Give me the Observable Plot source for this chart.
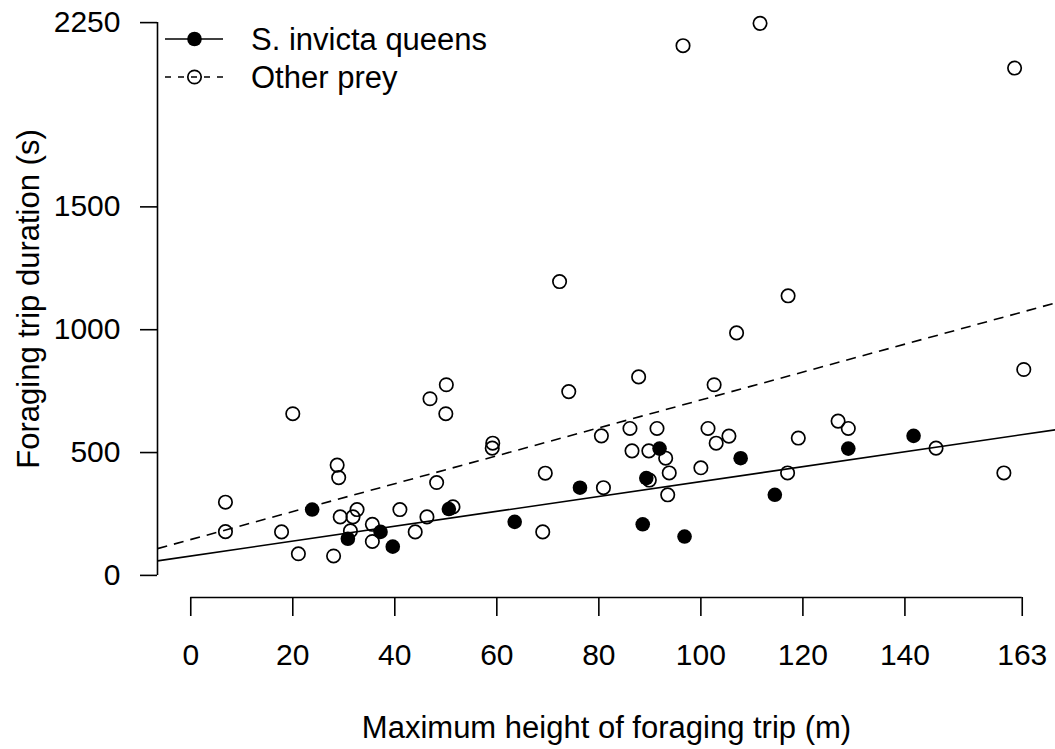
<!DOCTYPE html>
<html>
<head>
<meta charset="utf-8">
<script src="https://cdn.jsdelivr.net/npm/d3@7"></script>
<script src="https://cdn.jsdelivr.net/npm/@observablehq/plot@0.6"></script>
<style>
  html, body { margin: 0; padding: 0; background: #fff; }
  #chart svg { display: block; }
</style>
</head>
<body>
<div id="chart"></div>
<script>
// ---- data ----
const xTicks = [0, 20, 40, 60, 80, 100, 120, 140, 163];
const yTicks = [0, 500, 1000, 1500, 2250];

const queensX = [23.8, 30.8, 37.2, 39.6, 50.6, 63.5, 76.3, 91.9, 89.3, 88.6, 96.8, 107.8, 114.5, 128.9, 141.7];
const queensY = [268, 149, 177, 117, 270, 218, 357, 516, 396, 208, 158, 477, 328, 516, 568];

const otherX = [72.3, 20.0, 50.1, 46.9, 50.0, 74.1, 59.2, 59.1, 80.5, 28.7,
                29.0, 6.8, 6.8, 17.8, 21.1, 28.0, 29.3, 31.8, 32.6, 31.3,
                35.6, 35.6, 41.0, 44.0, 46.3, 48.2, 51.4, 69.5, 69.0, 80.9,
                117.1, 107.0, 87.8, 102.6, 163.3, 86.1, 91.4, 101.4, 105.5, 103.0,
                86.5, 89.8, 93.1, 93.8, 89.9, 93.5, 100.0, 119.1, 126.9, 128.9,
                117.0, 146.1, 159.4, 96.5, 111.6, 161.5];
const otherY = [1196, 658, 776, 719, 658, 748, 538, 518, 568, 449,
                398, 298, 178, 177, 88, 79, 238, 238, 268, 181,
                208, 138, 268, 177, 238, 378, 279, 416, 177, 357,
                1138, 987, 808, 776, 838, 598, 598, 598, 567, 538,
                507, 507, 477, 417, 388, 328, 438, 559, 628, 598,
                417, 518, 417, 2156, 2247, 2065];

// fitted lines (intercept, slope)
const fitNames = ["S. invicta queens", "Other prey"];
const fitIntercept = [79, 146];
const fitSlope = [3.03, 5.68];

const xLabel = "Maximum height of foraging trip (m)";
const yLabel = "Foraging trip duration (s)";

// ---- build tables ----
const queens = queensX.map((x, i) => ({x, y: queensY[i]}));
const other = otherX.map((x, i) => ({x, y: otherY[i]}));

const xLim = [0, 163], yLim = [0, 2250];
const ext = (a, b) => [a - (b - a) * 0.04, b + (b - a) * 0.04];
const xDom = ext(...xLim), yDom = ext(...yLim);

const fits = fitNames.map((name, i) => ({
  name,
  x1: xDom[0], y1: fitIntercept[i] + fitSlope[i] * xDom[0],
  x2: xDom[1], y2: fitIntercept[i] + fitSlope[i] * xDom[1]
}));

const FONT = "'Liberation Sans', Arial, Helvetica, sans-serif";
const dash = "10,7";
const lw = 1.6;

const chart = Plot.plot({
  width: 1055,
  height: 749,
  marginLeft: 157,
  marginRight: 0,
  marginTop: 0,
  marginBottom: 152,
  x: {domain: xDom},
  y: {domain: yDom},
  style: {fontFamily: FONT, fontSize: "30px", background: "white", color: "black"},
  marks: [
    // axis lines (R style: from first to last tick)
    Plot.ruleX([{x: xDom[0], y1: yLim[0], y2: yLim[1]}], {x: "x", y1: "y1", y2: "y2", stroke: "black", strokeWidth: lw}),
    Plot.ruleY([{y: yDom[0], x1: xLim[0], x2: xLim[1]}], {y: "y", x1: "x1", x2: "x2", stroke: "black", strokeWidth: lw}),
    Plot.axisY({ticks: yTicks, anchor: "left", tickSize: 17, tickPadding: 20, fontSize: 30,
                tickFormat: d => String(d), label: null, stroke: "black", strokeWidth: lw}),
    Plot.axisX({ticks: xTicks, anchor: "bottom", tickSize: 19, tickPadding: 27, fontSize: 30,
                tickFormat: d => String(d), label: null, stroke: "black", strokeWidth: lw}),
    // axis titles
    Plot.text([xLabel], {frameAnchor: "bottom", dy: 131, textAnchor: "middle", lineAnchor: "middle", fontSize: 31, fill: "black"}),
    Plot.text([yLabel], {frameAnchor: "left", dx: -128, rotate: -90, textAnchor: "middle", lineAnchor: "middle", fontSize: 31, fill: "black"}),
    // points
    Plot.dot(other, {x: "x", y: "y", r: 6.7, fill: "none", stroke: "black", strokeWidth: 1.7}),
    Plot.dot(queens, {x: "x", y: "y", r: 7.3, fill: "black", stroke: "none"}),
    // fitted lines
    Plot.link([fits[0]], {x1: "x1", y1: "y1", x2: "x2", y2: "y2", stroke: "black", strokeWidth: lw}),
    Plot.link([fits[1]], {x1: "x1", y1: "y1", x2: "x2", y2: "y2", stroke: "black", strokeWidth: lw, strokeDasharray: dash})
  ]
});

document.getElementById("chart").appendChild(chart);

// ---- legend (R-style, no box) ----
const svg = d3.select(chart);
const lg = svg.append("g").attr("font-family", FONT).attr("font-size", 31).attr("text-anchor", "start");
const rows = [
  {label: fitNames[0], y: 39, filled: true, dashed: false},
  {label: fitNames[1], y: 77, filled: false, dashed: true}
];
rows.forEach(r => {
  lg.append("line").attr("x1", 165).attr("x2", 223).attr("y1", r.y).attr("y2", r.y)
    .attr("stroke", "black").attr("stroke-width", lw)
    .attr("stroke-dasharray", r.dashed ? "6,7" : null);
  lg.append("circle").attr("cx", 194.5).attr("cy", r.y).attr("r", r.filled ? 7.3 : 6.7)
    .attr("fill", r.filled ? "black" : "none").attr("stroke", r.filled ? "none" : "black")
    .attr("stroke-width", 1.7);
  lg.append("text").attr("x", 251).attr("y", r.y).attr("dy", "0.35em")
    .attr("text-anchor", "start").attr("fill", "black").text(r.label);
});
</script>
</body>
</html>
